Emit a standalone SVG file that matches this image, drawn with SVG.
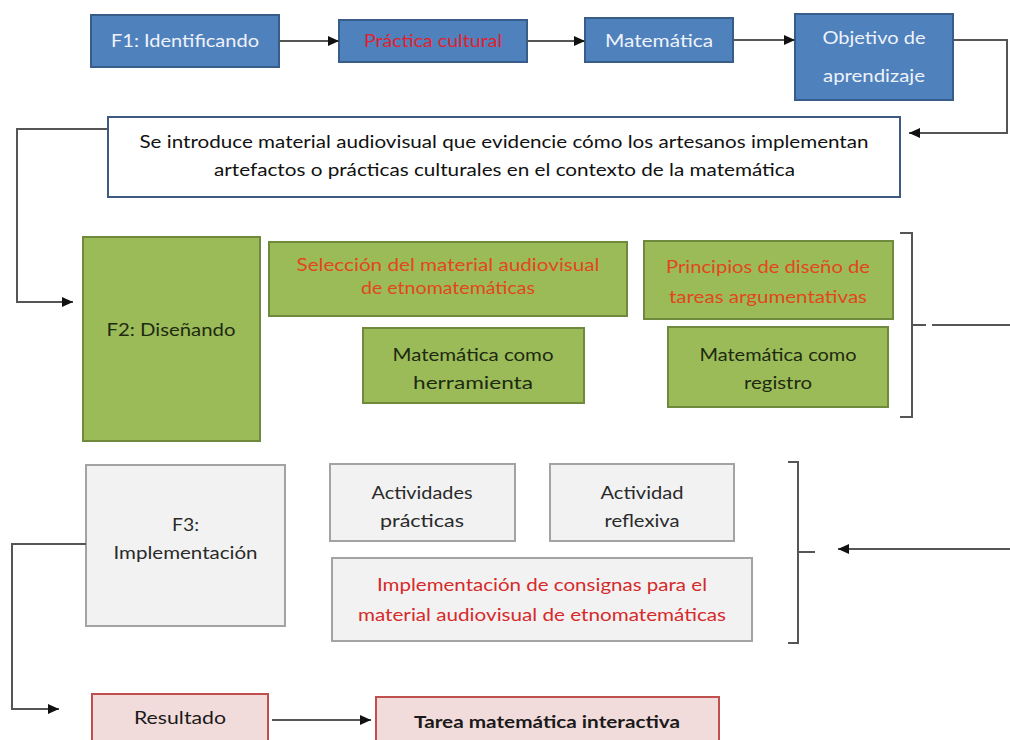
<svg xmlns="http://www.w3.org/2000/svg" width="1010" height="740" viewBox="0 0 1010 740">
<defs>
<marker id="ah" markerUnits="userSpaceOnUse" markerWidth="12" markerHeight="10" refX="11" refY="5" orient="auto">
<path d="M0,0 L11,5 L0,10 Z" fill="#111"/>
</marker>
<style>
text{font-family:Lato,"Open Sans","Liberation Sans",sans-serif;font-size:17px;text-anchor:middle}
.blue rect{fill:#4f81bd;stroke:#385d8a;stroke-width:2}
.blue text{fill:#eef2fa}
.green rect{fill:#9bbb59;stroke:#6f8a3c;stroke-width:2}
.green text{fill:#1e2a10}
.green text.or{fill:#e2471c}
.gray rect{fill:#f2f2f2;stroke:#a3a3a3;stroke-width:2}
.gray text{fill:#2a2a2a}
.gray text.rd{fill:#d62a2a}
.pink rect{fill:#f2dcdb;stroke:#c0504d;stroke-width:2}
.pink text{fill:#1a1a1a}
.conn path{fill:none;stroke:#555;stroke-width:2}
</style>
</defs>
<rect width="1010" height="740" fill="#fff"/>

<g id="f1" class="blue"><rect x="91" y="15" width="188" height="52"/><text x="185" y="47" textLength="148" lengthAdjust="spacingAndGlyphs">F1: Identificando</text></g>
<g id="practica" class="blue"><rect x="339" y="20" width="188" height="42"/><text x="433" y="47" textLength="138" lengthAdjust="spacingAndGlyphs" style="fill:#e0222e">Práctica cultural</text></g>
<g id="matematica" class="blue"><rect x="585" y="18" width="148" height="44"/><text x="659" y="47" textLength="108" lengthAdjust="spacingAndGlyphs">Matemática</text></g>
<g id="objetivo" class="blue"><rect x="795" y="14" width="158" height="86"/><text x="874" y="44" textLength="103" lengthAdjust="spacingAndGlyphs">Objetivo de</text><text x="874" y="82" textLength="102" lengthAdjust="spacingAndGlyphs">aprendizaje</text></g>

<g id="intro"><rect x="108" y="117" width="792" height="80" fill="#fff" stroke="#3d5a80" stroke-width="2"/>
<text x="504" y="148" textLength="729" lengthAdjust="spacingAndGlyphs" fill="#111">Se introduce material audiovisual que evidencie cómo los artesanos implementan</text>
<text x="504.5" y="176" textLength="581" lengthAdjust="spacingAndGlyphs" fill="#111">artefactos o prácticas culturales en el contexto de la matemática</text></g>

<g id="f2" class="green"><rect x="83" y="237" width="177" height="204"/><text x="171" y="336" textLength="129" lengthAdjust="spacingAndGlyphs">F2: Diseñando</text></g>
<g id="seleccion" class="green"><rect x="269" y="242" width="358" height="74"/><text class="or" x="448" y="271" textLength="303" lengthAdjust="spacingAndGlyphs">Selección del material audiovisual</text><text class="or" x="448" y="294" textLength="174" lengthAdjust="spacingAndGlyphs">de etnomatemáticas</text></g>
<g id="principios" class="green"><rect x="644" y="241" width="249" height="78"/><text class="or" x="768" y="273" textLength="204" lengthAdjust="spacingAndGlyphs">Principios de diseño de</text><text class="or" x="768" y="303" textLength="198" lengthAdjust="spacingAndGlyphs">tareas argumentativas</text></g>
<g id="herramienta" class="green"><rect x="363" y="328" width="221" height="75"/><text x="473" y="361" textLength="161" lengthAdjust="spacingAndGlyphs">Matemática como</text><text x="473" y="389" textLength="120" lengthAdjust="spacingAndGlyphs">herramienta</text></g>
<g id="registro" class="green"><rect x="668" y="327" width="220" height="80"/><text x="778" y="361" textLength="157" lengthAdjust="spacingAndGlyphs">Matemática como</text><text x="778" y="389" textLength="68" lengthAdjust="spacingAndGlyphs">registro</text></g>

<g id="f3" class="gray"><rect x="86" y="465" width="199" height="161"/><text x="185.5" y="531" textLength="27" lengthAdjust="spacingAndGlyphs">F3:</text><text x="185.5" y="559" textLength="144" lengthAdjust="spacingAndGlyphs">Implementación</text></g>
<g id="actividades" class="gray"><rect x="330" y="464" width="185" height="77"/><text x="422" y="499" textLength="101" lengthAdjust="spacingAndGlyphs">Actividades</text><text x="422" y="527" textLength="84" lengthAdjust="spacingAndGlyphs">prácticas</text></g>
<g id="reflexiva" class="gray"><rect x="550" y="464" width="184" height="77"/><text x="642" y="499" textLength="83" lengthAdjust="spacingAndGlyphs">Actividad</text><text x="642" y="527" textLength="75" lengthAdjust="spacingAndGlyphs">reflexiva</text></g>
<g id="consignas" class="gray"><rect x="332" y="558" width="420" height="83"/><text class="rd" x="542" y="591" textLength="330" lengthAdjust="spacingAndGlyphs">Implementación de consignas para el</text><text class="rd" x="542" y="621" textLength="368" lengthAdjust="spacingAndGlyphs">material audiovisual de etnomatemáticas</text></g>

<g id="resultado" class="pink"><rect x="92" y="694" width="176" height="52"/><text x="180" y="724" textLength="92" lengthAdjust="spacingAndGlyphs">Resultado</text></g>
<g id="tarea" class="pink"><rect x="376" y="697" width="343" height="50"/><text x="547" y="728" textLength="266" lengthAdjust="spacingAndGlyphs" style="font-weight:bold">Tarea matemática interactiva</text></g>

<g id="connectors" class="conn">
<path d="M279,41 H339" marker-end="url(#ah)"/>
<path d="M527,41 H585" marker-end="url(#ah)"/>
<path d="M733,40 H795" marker-end="url(#ah)"/>
<path d="M953,40 H1007 V133 H909" marker-end="url(#ah)"/>
<path d="M108,129 H17 V302 H73" marker-end="url(#ah)"/>
<path d="M86,544 H12 V709 H59" marker-end="url(#ah)"/>
<path d="M272,720 H371" marker-end="url(#ah)"/>
<path d="M900,233 H912 V417 H900 M912,325 H926"/>
<path d="M932,325 H1010"/>
<path d="M788,462 H798 V643 H788 M798,552 H815"/>
<path d="M1010,549 H838" marker-end="url(#ah)"/>
</g>
</svg>
